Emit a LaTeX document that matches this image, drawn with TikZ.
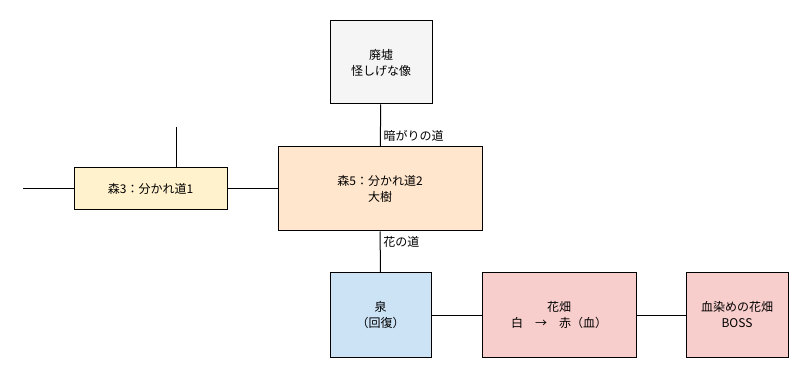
\documentclass[tikz,border=0pt]{standalone}
\usepackage{fontspec}
\setmainfont{Noto Sans CJK JP}
\usepackage{tikz}
\usetikzlibrary{positioning}
\definecolor{ruinsgray}{HTML}{F5F5F5}
\definecolor{forestorange}{HTML}{FFE6CC}
\definecolor{forestyellow}{HTML}{FFF2CC}
\definecolor{springblue}{HTML}{CCE2F5}
\definecolor{flowerred}{HTML}{F8CECC}
\tikzset{
    area/.style={rectangle, draw=black, line width=0.75pt, inner sep=0pt,
        align=center, font=\fontsize{9}{12}\selectfont},
    path/.style={line width=0.75pt, draw=black},
    pathlabel/.style={font=\fontsize{9}{12}\selectfont, inner sep=2pt}
}
\begin{document}
\begin{tikzpicture}[x=0.75pt,y=-0.75pt]
        \useasboundingbox (0,0) rectangle (809,377);
        \node[area,fill=ruinsgray,minimum width=76.5pt,minimum height=62.25pt] at (381,62.5) (ruins) {廃墟\\怪しげな像};
        \node[area,fill=forestorange,minimum width=153pt,minimum height=63pt] at (380,189) (forest5) {森5：分かれ道2\\大樹};
        \node[area,fill=forestyellow,minimum width=114.75pt,minimum height=31.5pt] at (150.5,189) (forest3) {森3：分かれ道1};
        \node[area,fill=springblue,minimum width=75.75pt,minimum height=63pt] at (380.5,315) (spring) {泉\\（回復）};
        \node[area,fill=flowerred,minimum width=115.5pt,minimum height=63pt] at (559,315) (field) {花畑\\白　→　赤（血）};
        \node[area,fill=flowerred,minimum width=76.5pt,minimum height=63pt] at (737,315) (boss) {血染めの花畑\\BOSS};
        \coordinate (westend) at (23,189);
        \coordinate (northend) at (176,127);
        \draw[path] (ruins) -- node[pathlabel,pos=0.75,right] {暗がりの道} (forest5);
        \draw[path] (forest5) -- node[pathlabel,pos=0.26,right] {花の道} (spring);
        \draw[path] (forest3) -- (forest5);
        \draw[path] (westend) -- (forest3);
        \draw[path] (northend) -- (northend |- forest3.north);
        \draw[path] (spring) -- (field);
        \draw[path] (field) -- (boss);
    \end{tikzpicture}
\end{document}
